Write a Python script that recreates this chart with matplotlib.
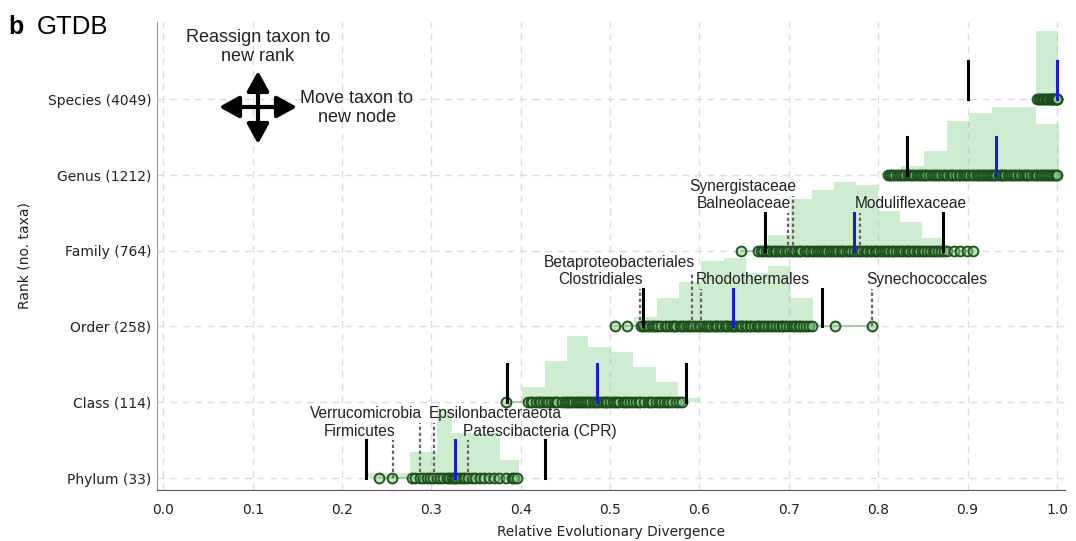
import numpy as np
import matplotlib
matplotlib.use('Agg')
import matplotlib.pyplot as plt

# Ranks (bottom to top) and RED median of each rank
ranks = ['Phylum (33)', 'Class (114)', 'Order (258)', 'Family (764)', 'Genus (1212)', 'Species (4049)']
medians = [0.327, 0.485, 0.637, 0.773, 0.932, 1.0]

# RED values of taxa, one list per rank
phylum_red = [0.241, 0.256, 0.278, 0.282, 0.287, 0.291, 0.295, 0.299, 0.302, 0.306, 0.310,
              0.313, 0.317, 0.320, 0.323, 0.325, 0.327, 0.329, 0.332, 0.335, 0.338, 0.341,
              0.345, 0.349, 0.354, 0.359, 0.364, 0.370, 0.376, 0.383, 0.390, 0.393, 0.396]
class_red = [0.383, 0.408, 0.411, 0.413, 0.417, 0.420, 0.422, 0.425, 0.428, 0.430, 0.434,
             0.437, 0.439, 0.441, 0.446, 0.449, 0.452, 0.454, 0.456, 0.458, 0.462, 0.464,
             0.466, 0.469, 0.471, 0.473, 0.475, 0.478, 0.481, 0.483, 0.485, 0.488, 0.491,
             0.493, 0.495, 0.497, 0.500, 0.503, 0.506, 0.508, 0.510, 0.514, 0.517, 0.519,
             0.522, 0.526, 0.529, 0.532, 0.534, 0.538, 0.542, 0.545, 0.547, 0.551, 0.555,
             0.557, 0.560, 0.564, 0.566, 0.569, 0.574, 0.577, 0.580]
order_red = [0.506, 0.519, 0.535, 0.537, 0.538, 0.541, 0.543, 0.547, 0.549, 0.551, 0.554,
             0.557, 0.561, 0.564, 0.567, 0.570, 0.572, 0.574, 0.578, 0.580, 0.583, 0.586,
             0.588, 0.591, 0.593, 0.596, 0.599, 0.601, 0.604, 0.606, 0.608, 0.611, 0.613,
             0.616, 0.618, 0.620, 0.623, 0.625, 0.628, 0.630, 0.632, 0.635, 0.637, 0.639,
             0.641, 0.644, 0.646, 0.648, 0.651, 0.653, 0.656, 0.658, 0.661, 0.664, 0.666,
             0.668, 0.671, 0.673, 0.677, 0.680, 0.682, 0.686, 0.689, 0.692, 0.694, 0.697,
             0.700, 0.703, 0.706, 0.708, 0.711, 0.713, 0.716, 0.719, 0.723, 0.726, 0.752,
             0.793]
family_red = [0.647, 0.666, 0.669, 0.671, 0.674, 0.677, 0.679, 0.682, 0.684, 0.686, 0.689,
              0.691, 0.694, 0.697, 0.699, 0.702, 0.705, 0.707, 0.710, 0.712, 0.714, 0.718,
              0.720, 0.723, 0.726, 0.728, 0.731, 0.734, 0.736, 0.738, 0.741, 0.743, 0.746,
              0.748, 0.750, 0.753, 0.755, 0.758, 0.760, 0.762, 0.765, 0.767, 0.770, 0.773,
              0.776, 0.778, 0.781, 0.784, 0.786, 0.788, 0.791, 0.793, 0.796, 0.798, 0.800,
              0.803, 0.805, 0.808, 0.810, 0.812, 0.815, 0.817, 0.820, 0.823, 0.825, 0.828,
              0.831, 0.833, 0.835, 0.838, 0.840, 0.843, 0.846, 0.849, 0.851, 0.855, 0.858,
              0.861, 0.864, 0.867, 0.870, 0.874, 0.877, 0.885, 0.892, 0.899, 0.906]
genus_red = [0.811, 0.813, 0.815, 0.818, 0.821, 0.823, 0.825, 0.828, 0.830, 0.833, 0.836,
             0.838, 0.840, 0.843, 0.846, 0.848, 0.850, 0.852, 0.854, 0.857, 0.860, 0.862,
             0.865, 0.867, 0.869, 0.872, 0.875, 0.877, 0.880, 0.882, 0.884, 0.887, 0.890,
             0.892, 0.895, 0.897, 0.899, 0.902, 0.905, 0.907, 0.910, 0.912, 0.914, 0.916,
             0.918, 0.921, 0.923, 0.925, 0.926, 0.928, 0.930, 0.932, 0.935, 0.937, 0.939,
             0.941, 0.942, 0.945, 0.947, 0.950, 0.952, 0.954, 0.957, 0.959, 0.962, 0.964,
             0.966, 0.968, 0.971, 0.974, 0.976, 0.978, 0.981, 0.983, 0.986, 0.988, 0.990,
             0.992, 0.994, 0.997, 0.999, 1.0]
species_red = [0.978, 0.980, 0.981, 0.983, 0.984, 0.986, 0.988, 0.989, 0.990, 0.992, 0.993,
               0.994, 0.995, 0.996, 0.997, 0.998, 0.999, 1.0, 1.0, 1.0]
red_values = [phylum_red, class_red, order_red, family_red, genus_red, species_red]

# Histogram bin edges and scaled heights per rank
hist_edges = [
    [0.228, 0.276, 0.306, 0.323, 0.377, 0.398],
    [0.401, 0.427, 0.452, 0.475, 0.501, 0.526, 0.551, 0.576, 0.601],
    [0.527, 0.552, 0.577, 0.602, 0.627, 0.652, 0.677, 0.702, 0.727],
    [0.677, 0.702, 0.726, 0.751, 0.775, 0.800, 0.824, 0.849, 0.873],
    [0.803, 0.826, 0.851, 0.877, 0.902, 0.927, 0.952, 0.977, 1.002],
    [0.977, 1.001],
]
hist_heights = [
    [0.07, 0.34, 0.91, 0.60, 0.24],
    [0.20, 0.55, 0.88, 0.73, 0.66, 0.47, 0.27, 0.05],
    [0.12, 0.38, 0.58, 0.86, 0.90, 0.70, 0.80, 0.37],
    [0.20, 0.68, 0.80, 0.90, 0.87, 0.52, 0.38, 0.16],
    [0.04, 0.12, 0.32, 0.71, 0.82, 0.89, 0.89, 0.67],
    [0.90],
]

# Outlier taxa that are labelled
label_rank = [0, 0, 0, 0, 2, 2, 2, 2, 3, 3, 3]
label_x = [0.257, 0.287, 0.303, 0.341, 0.534, 0.592, 0.602, 0.793, 0.699, 0.705, 0.780]
label_text = ['Firmicutes', 'Verrucomicrobia', 'Epsilonbacteraeota', 'Patescibacteria (CPR)',
              'Clostridiales', 'Betaproteobacteriales', 'Rhodothermales', 'Synechococcales',
              'Balneolaceae', 'Synergistaceae', 'Moduliflexaceae']
label_upper = [False, True, True, False, False, True, False, False, False, True, False]
label_right = [True, True, False, False, True, True, False, False, True, True, False]

fig = plt.figure(figsize=(10.76, 5.41), dpi=100)
ax = fig.add_axes([157 / 1076, 51 / 541, 908 / 1076, 468 / 541])

for i in range(len(ranks)):
    vals = red_values[i]
    # histogram
    ax.stairs(np.array(hist_heights[i]) + i, hist_edges[i], baseline=i, fill=True,
              color='#8fd48f', alpha=0.42, lw=0, zorder=1)
    # line through all taxa
    ax.plot([min(vals), max(vals)], [i, i], color='#9cc59c', lw=1.2, zorder=2)
    ax.scatter(vals, [i] * len(vals), s=50, facecolor=(0.55, 0.80, 0.55, 0.5),
               edgecolor=(0.10, 0.30, 0.10, 0.95), linewidths=1.4, zorder=3)
    # median and +/- 0.1
    ax.plot([medians[i], medians[i]], [i, i + 0.5], color='#1a1adf', lw=2.2, zorder=5)
    for x in (medians[i] - 0.1, medians[i] + 0.1):
        if x <= 1.0:
            ax.plot([x, x], [i, i + 0.5], color='black', lw=2.2, zorder=5)

# labelled taxa
for r, x, t, up, right in zip(label_rank, label_x, label_text, label_upper, label_right):
    top = r + (0.72 if up else 0.5)
    ty = r + (0.845 if up else 0.62)
    ax.plot([x, x], [r, top], color='#666666', lw=1.6, ls=(0, (1.5, 1.2)), zorder=4)
    if right:
        ax.text(x + 0.003, ty, t, ha='right', va='center', fontsize=11.2,
                family='Liberation Sans', color='#222222')
    else:
        ax.text(x - 0.006, ty, t, ha='left', va='center', fontsize=11.2,
                family='Liberation Sans', color='#222222')

ax.set_xlim(-0.007, 1.009)
ax.set_ylim(-0.158, 6.016)
ax.set_xticks(np.arange(0, 1.01, 0.1))
ax.set_xticklabels(['%.1f' % v for v in np.arange(0, 1.01, 0.1)])
ax.set_yticks(range(len(ranks)))
ax.set_yticklabels(ranks)
ax.tick_params(axis='both', length=0, labelsize=10, colors='#222222')
ax.tick_params(axis='x', pad=9)
ax.tick_params(axis='y', pad=4)
ax.set_axisbelow(True)
ax.grid(True, ls=(0, (5, 4)), color='#dcdcdc', lw=1)
ax.spines['top'].set_visible(False)
ax.spines['right'].set_visible(False)
ax.spines['left'].set_color('#999999')
ax.spines['bottom'].set_color('#555555')
ax.set_xlabel('Relative Evolutionary Divergence', fontsize=9.8, labelpad=6, color='#222222')
ax.set_ylabel('Rank (no. taxa)', fontsize=10, labelpad=12, color='#222222')

# panel title
fig.text(8 / 1076, 1 - 34 / 541, 'b', fontsize=18, weight='bold', family='Liberation Sans')
fig.text(37 / 1076, 1 - 34 / 541, 'GTDB', fontsize=18.5, family='Liberation Sans')

# legend-like arrows
fig.text(258 / 1076, 1 - 47 / 541, 'Reassign taxon to\nnew rank', ha='center', va='center',
         fontsize=13, family='Liberation Sans', color='#222222', linespacing=1.1)
fig.text(357 / 1076, 1 - 108 / 541, 'Move taxon to\nnew node', ha='center', va='center',
         fontsize=13, family='Liberation Sans', color='#222222', linespacing=1.1)
arrow = dict(arrowstyle='-|>,head_length=1.0,head_width=0.55', lw=3, color='black',
             mutation_scale=12, shrinkA=0, shrinkB=0)
cx, cy = 258, 541 - 107
for end in [(219, cy), (297, cy), (cx, 541 - 71), (cx, 541 - 144)]:
    ax.annotate('', xy=end, xytext=(cx, cy), xycoords='figure pixels',
                textcoords='figure pixels', arrowprops=arrow)

fig.savefig('out.png', dpi=100)
